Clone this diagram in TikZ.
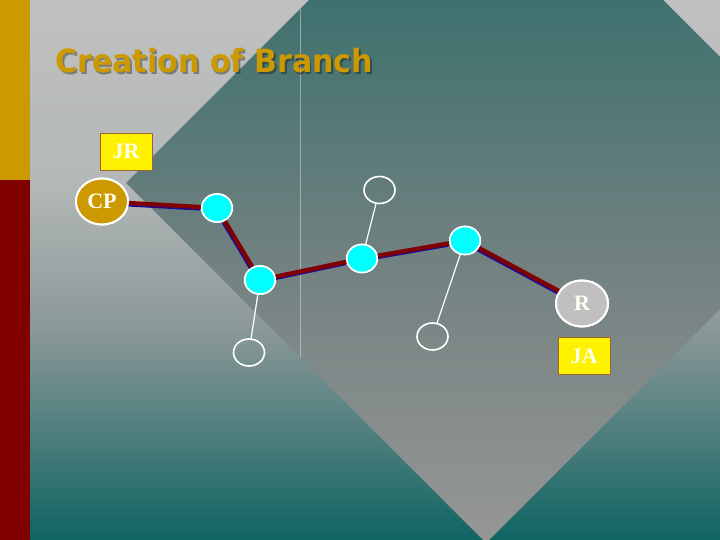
\documentclass[tikz,border=0pt]{standalone}
\usepackage{fontspec}
\setmainfont{Liberation Serif}
\newfontfamily\titlefont{DejaVu Sans}
\usetikzlibrary{shapes.geometric}
\definecolor{barGold}{HTML}{CC9900}
\definecolor{barRed}{HTML}{800000}
\definecolor{bgTop}{HTML}{C0C0C0}
\definecolor{bgMidA}{HTML}{B4B8B8}
\definecolor{bgMidB}{HTML}{8A9897}
\definecolor{bgBot}{HTML}{0F6462}
\definecolor{dmTop}{HTML}{3E716E}
\definecolor{dmMid}{HTML}{738281}
\definecolor{dmBot}{HTML}{969696}
\definecolor{cyanNode}{HTML}{00FFFF}
\definecolor{linkRed}{HTML}{800000}
\definecolor{linkBlue}{HTML}{1A0A99}
\definecolor{boxBorder}{HTML}{996633}
\definecolor{rGray}{HTML}{C0C0C0}
\definecolor{titleGold}{HTML}{CC9900}
\definecolor{labelWhite}{HTML}{FFFFF0}
\newcommand{\shadowedtitle}[1]{%
  \makebox[0pt][l]{\raisebox{-2pt}{\hspace{2pt}\pgfsetfillopacity{0.35}\color{black}#1\pgfsetfillopacity{1}}}%
  \color{titleGold}#1}
\tikzset{
  linkshadow/.style={draw=linkBlue, line width=4pt, transform canvas={xshift=-1pt, yshift=-1.5pt}},
  link/.style={draw=linkRed, line width=4.3pt},
  cnode/.style={ellipse, fill=cyanNode, draw=white, line width=1.6pt, minimum width=30.5pt, minimum height=28pt, inner sep=0pt},
  enode/.style={ellipse, draw=white, line width=1.6pt, minimum width=31pt, minimum height=27pt, inner sep=0pt},
  tagbox/.style={rectangle, fill=yellow, draw=boxBorder, line width=0.8pt, minimum width=52pt, minimum height=37pt, inner sep=0pt, text=labelWhite, font=\bfseries\fontsize{22}{22}\selectfont},
  bignode/.style={ellipse, draw=white, line width=2pt, minimum width=52pt, minimum height=46pt, inner sep=0pt, text=labelWhite, font=\bfseries\fontsize{22}{22}\selectfont},
  twig/.style={draw=white, line width=1.2pt},
  titletext/.style={inner sep=0pt, anchor=base west, font=\titlefont\bfseries\fontsize{32}{32}\selectfont}
}
\begin{document}
\begin{tikzpicture}[x=1pt, y=-1pt]
\useasboundingbox (0,0) rectangle (720,540);
% outer background
\shade[top color=bgTop, bottom color=bgMidA] (0,0) rectangle (720,180.5);
\shade[top color=bgMidA, bottom color=bgMidB] (0,180) rectangle (720,330.5);
\shade[top color=bgMidB, bottom color=bgBot] (0,330) rectangle (720,540);
% diamond
\begin{scope}
  \clip (486,-177) -- (846,183) -- (486,543) -- (126,183) -- cycle;
  \shade[top color=dmTop, bottom color=dmMid] (0,0) rectangle (720,270.5);
  \shade[top color=dmMid, bottom color=dmBot] (0,270) rectangle (720,540);
\end{scope}
\draw[white, opacity=0.4, line width=1pt] (300,9) -- (300,357);
% left bar
\fill[barGold] (0,0) rectangle (30,180);
\fill[barRed] (0,180) rectangle (30,540);
% title
\node[titletext] (title) at (55,73) {\scalebox{0.94}[1]{\shadowedtitle{Creation of Branch}}};
% nodes
\node[tagbox] (jr) at (126,151.5) {JR};
\node[bignode, fill=barGold] (cp) at (102,201.5) {CP};
\node[cnode] (n1) at (217,208) {};
\node[cnode] (n2) at (260,280) {};
\node[cnode] (n3) at (362,258.5) {};
\node[cnode] (n4) at (465,240.5) {};
\node[bignode, fill=rGray] (r) at (582,303.5) {R};
\node[tagbox] (ja) at (584,356) {JA};
\node[enode] (e3) at (379.5,190) {};
\node[enode] (e2) at (249,352.5) {};
\node[enode] (e4) at (432.5,336.5) {};
% twigs
\draw[twig] (n2) -- (e2);
\draw[twig] (n3) -- (e3);
\draw[twig] (n4) -- (e4);
% links
\draw[linkshadow] (cp) -- (n1);
\draw[linkshadow] (n1) -- (n2);
\draw[linkshadow] (n2) -- (n3);
\draw[linkshadow] (n3) -- (n4);
\draw[linkshadow] (n4) -- (r);
\draw[link] (cp) -- (n1);
\draw[link] (n1) -- (n2);
\draw[link] (n2) -- (n3);
\draw[link] (n3) -- (n4);
\draw[link] (n4) -- (r);
% redraw node tops over links
\node[bignode, fill=barGold] at (cp) {CP};
\node[cnode] at (n1) {};
\node[cnode] at (n2) {};
\node[cnode] at (n3) {};
\node[cnode] at (n4) {};
\node[bignode, fill=rGray] at (r) {R};
\end{tikzpicture}
\end{document}
